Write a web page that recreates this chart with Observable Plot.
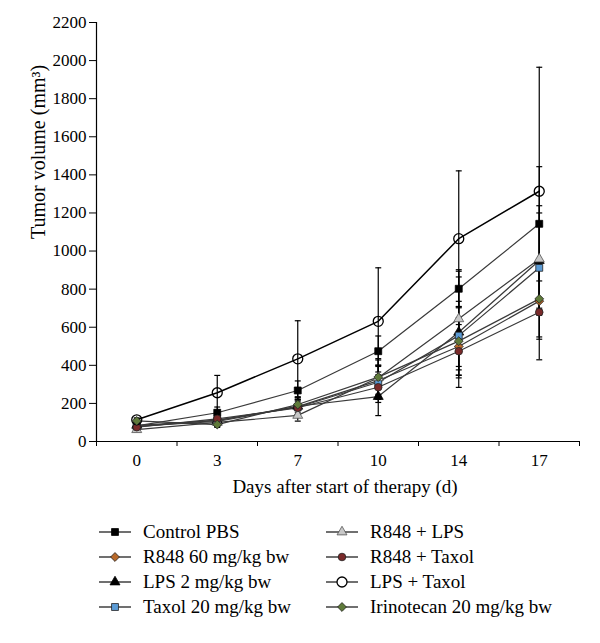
<!DOCTYPE html>
<html><head><meta charset="utf-8">
<script src="https://cdn.jsdelivr.net/npm/d3@7"></script>
<script src="https://cdn.jsdelivr.net/npm/@observablehq/plot@0.6"></script>
<style>
body{margin:0;background:#fff;font-family:"Liberation Serif",serif;}
#wrap{width:600px;height:643px;position:relative;background:#fff;}
#legend{position:relative;width:600px;height:138px;}
.item{position:absolute;height:25px;display:flex;align-items:center;font-size:19px;color:#000;white-space:nowrap;}
.item svg{margin-right:12px;}
</style></head><body><div id="wrap"><div id="chart"></div><div id="legend"></div></div>
<script>
// Categories (days after start of therapy)
const days = ["0", "3", "7", "10", "14", "17"];
const yTicks = [0, 200, 400, 600, 800, 1000, 1200, 1400, 1600, 1800, 2000, 2200];

// Series names
const seriesNames = ["Control PBS", "R848 60 mg/kg bw", "LPS 2 mg/kg bw", "Taxol 20 mg/kg bw",
  "R848 + LPS", "R848 + Taxol", "LPS + Taxol", "Irinotecan 20 mg/kg bw"];

// Mean tumor volumes (mm³)
const controlPBS   = [82, 151, 268, 474, 802, 1143];
const r848         = [80, 105, 183, 320, 499, 737];
const lps          = [85, 110, 185, 236, 574, 950];
const taxol        = [78, 112, 180, 311, 556, 912];
const r848Lps      = [62, 100, 137, 335, 644, 958];
const r848Taxol    = [75, 119, 177, 285, 474, 679];
const lpsTaxol     = [114, 256, 434, 631, 1065, 1314];
const irinotecan   = [108, 89, 194, 338, 527, 749];

// Error bar half-lengths (SD)
const controlPBSErr = [10, 30, 50, 80, 100, 300];
const r848Err       = [10, 25, 40, 80, 150, 200];
const lpsErr        = [10, 20, 45, 100, 290, 250];
const taxolErr      = [10, 20, 40, 90, 180, 220];
const r848LpsErr    = [10, 20, 30, 100, 250, 280];
const r848TaxolErr  = [10, 25, 35, 80, 140, 250];
const lpsTaxolErr   = [10, 91, 200, 281, 356, 651];
const irinotecanErr = [10, 15, 40, 90, 180, 200];

const allValues = [controlPBS, r848, lps, taxol, r848Lps, r848Taxol, lpsTaxol, irinotecan];
const allErrs = [controlPBSErr, r848Err, lpsErr, taxolErr, r848LpsErr, r848TaxolErr, lpsTaxolErr, irinotecanErr];

// Styles
const symbols = ["square", "diamond2", "triangle", "square", "triangle", "circle", "circle", "diamond2"];
const fills = ["#000000", "#b8692a", "#000000", "#5b9bd5", "#c8c8c8", "#7a2a2a", "none", "#5f7a3a"];
const strokes = ["#000", "#222", "#000", "#222", "#555", "#222", "#000", "#222"];
const radii = [3.9, 4.0, 3.7, 3.9, 3.7, 3.8, 5, 4.0];

const rows = [];
seriesNames.forEach((s, k) => {
  allValues[k].forEach((v, i) => rows.push({s, k, i, v, e: allErrs[k][i]}));
});

const capHalf = 0.037;
const marks = [
  Plot.axisY({ticks: yTicks, tickSize: 7, tickPadding: 3, tickFormat: d => String(d), label: null, fontSize: 17}),
  Plot.axisX({ticks: d3.range(-0.5, 6, 1), tickSize: 5, tickFormat: () => "", label: null}),
  Plot.axisX({ticks: d3.range(0, 6), tickSize: 0, tickPadding: 12, tickFormat: i => days[i], label: null, fontSize: 17}),
  Plot.ruleX([-0.5], {stroke: "#000", strokeWidth: 1.2}),
  Plot.ruleY([0], {stroke: "#000", strokeWidth: 1.2}),
  Plot.line(rows.filter(d => d.s !== "LPS + Taxol"), {x: "i", y: "v", z: "s", stroke: "#3a3a3a", strokeWidth: 1.2}),
  Plot.line(rows.filter(d => d.s === "LPS + Taxol"), {x: "i", y: "v", stroke: "#000", strokeWidth: 1.5}),
  Plot.ruleX(rows, {x: "i", y1: d => d.v - d.e, y2: d => d.v + d.e, stroke: "#000", strokeWidth: 1.2}),
  Plot.link(rows, {x1: d => d.i - capHalf, x2: d => d.i + capHalf, y1: d => d.v + d.e, y2: d => d.v + d.e, stroke: "#000", strokeWidth: 1.2}),
  Plot.link(rows, {x1: d => d.i - capHalf, x2: d => d.i + capHalf, y1: d => d.v - d.e, y2: d => d.v - d.e, stroke: "#000", strokeWidth: 1.2}),
];
seriesNames.forEach((s, k) => {
  marks.push(Plot.dot(rows.filter(d => d.k === k), {
    x: "i", y: "v", symbol: symbols[k], r: radii[k],
    fill: fills[k], stroke: strokes[k], strokeWidth: k === 6 ? 1.3 : 0.8
  }));
});
marks.push(Plot.text(["Tumor volume (mm³)"], {frameAnchor: "left", rotate: -90, dx: -58, dy: 7, fontSize: 20, fill: "#000"}));
marks.push(Plot.text(["Days after start of therapy (d)"], {frameAnchor: "bottom", dx: 7, dy: 51, fontSize: 19, fill: "#000"}));

const chart = Plot.plot({
  width: 600, height: 505,
  marginLeft: 96, marginRight: 21, marginTop: 22, marginBottom: 64,
  style: {fontFamily: '"Liberation Serif", serif', fontSize: "17px", color: "#000", background: "#fff", overflow: "visible"},
  x: {type: "linear", domain: [-0.5, 5.5]},
  y: {domain: [0, 2200]},
  marks
});
document.getElementById("chart").appendChild(chart);

// Legend (two columns, four rows)
const legend = d3.select("#legend");
const symMap = {square: d3.symbolSquare, diamond2: d3.symbolDiamond2, triangle: d3.symbolTriangle, circle: d3.symbolCircle};
seriesNames.forEach((s, k) => {
  const col = Math.floor(k / 4), row = k % 4;
  const item = legend.append("div").attr("class", "item")
    .style("left", (col === 0 ? 99 : 326) + "px")
    .style("top", (14.5 + row * 25) + "px");
  const svg = item.append("svg").attr("width", 32).attr("height", 20);
  svg.append("line").attr("x1", 0).attr("x2", 32).attr("y1", 10).attr("y2", 10)
    .attr("stroke", "#222").attr("stroke-width", 1.3);
  svg.append("path")
    .attr("d", d3.symbol(symMap[symbols[k]], Math.PI * radii[k] * radii[k])())
    .attr("transform", "translate(16,10)")
    .attr("fill", k === 6 ? "#fff" : fills[k])
    .attr("stroke", strokes[k]).attr("stroke-width", k === 6 ? 1.3 : 0.8);
  item.append("span").text(s);
});
</script></body></html>
